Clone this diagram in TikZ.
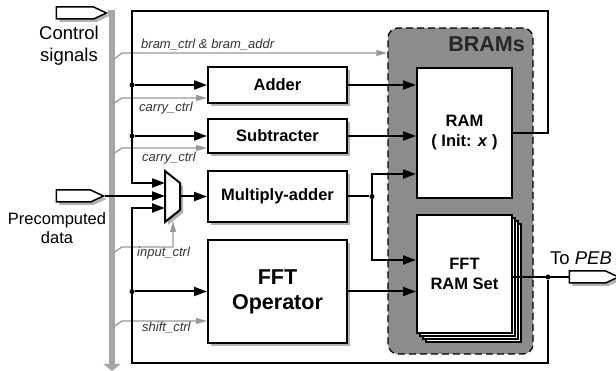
\documentclass[tikz,border=0pt]{standalone}
\usepackage{fontspec}
\setmainfont{Liberation Sans}
\usetikzlibrary{arrows.meta}
\usetikzlibrary{shapes.symbols}
\usetikzlibrary{shadows}

\definecolor{bramgray}{HTML}{8C8C8E}

\begin{document}
\begin{tikzpicture}[x=1pt,y=-1pt]
    \tikzset{shadowed/.style = {drop shadow={shadow xshift=3pt,shadow yshift=-3pt,fill=black!30,opacity=1}}}
    \tikzset{block/.style = {shape=rectangle,draw,line width=2pt,fill=white,minimum width=139pt,inner sep=0pt,align=center,font=\bfseries\fontsize{16.5}{20}\selectfont}}
    \tikzset{port/.style = {shape=signal,signal to=east,signal pointer angle=50,draw,line width=1.5pt,fill=white,minimum height=12pt,inner sep=0pt,shadowed}}
    \tikzset{wire/.style = {line width=2pt,> = {Triangle[length=13pt,width=9pt]}}}
    \tikzset{ctl/.style = {draw=black!40,line width=1.3pt,> = {Triangle[length=11pt,width=6pt]}}}
    \tikzset{bus/.style = {draw=black!35,line width=6.5pt,> = {Triangle[length=7pt,width=17pt]}}}
    \tikzset{lbl/.style = {font=\itshape\fontsize{13}{15}\selectfont,text=black!80,anchor=base west,inner sep=0pt}}
    \tikzset{dot/.style = {shape=circle,fill,inner sep=0pt,minimum size=5pt}}

    \useasboundingbox (0,0) rectangle (616,371);

    % ports and bus

    \node[port,minimum width=50pt] (ctrl) at (75,13) {};
    \node[port,minimum width=47pt] (pre) at (73.5,196) {};
    \node[port,minimum width=49pt] (peb) at (587.5,277) {};
    \node[align=center,font=\fontsize{18.5}{22}\selectfont] (ctrltext) at (69,46) {Control\\signals};
    \node[align=center,font=\fontsize{16.5}{19}\selectfont] (pretext) at (57,228) {Precomputed\\data};
    \node[anchor=base west,inner sep=0pt,font=\fontsize{18.5}{22}\selectfont] (pebtext) at (550,265) {To \textit{PEB}};

    \coordinate (bustop) at (112,13);
    \coordinate (busend) at (112,371);
    \draw[bus,->] (ctrl.east) -- (bustop) -- (busend);

    % BRAMs

    \node[draw,line width=1.3pt,dash pattern=on 7pt off 4pt,fill=bramgray,rounded corners=10pt,minimum width=145pt,minimum height=326pt] (brams) at (460.5,191) {};
    \node[anchor=base east,inner sep=0pt,font=\bfseries\fontsize{21.5}{25}\selectfont,text=black!85] (bramstext) at (525,52) {BRAMs};
    \node[block,minimum width=95pt,minimum height=130pt] (ram) at (464.5,133) {RAM\\( Init: \textit{x} )};
    \foreach \d in {9,6,3}
        \draw[line width=1.2pt,fill=white] (417+\d,215+\d) rectangle (512+\d,333+\d);
    \node[block,minimum width=95pt,minimum height=118pt] (fftram) at (464.5,274) {FFT\\RAM Set};

    % operators

    \node[block,shadowed,minimum height=36pt] (add) at (277.5,85) {Adder};
    \node[block,shadowed,minimum height=34pt] (sub) at (277.5,136) {Subtracter};
    \node[block,shadowed,minimum height=51pt] (mul) at (277.5,196.5) {Multiply-adder};
    \node[block,shadowed,minimum height=103pt,font=\bfseries\fontsize{21.5}{25}\selectfont] (fftop) at (277.5,291.5) {FFT\\Operator};

    \coordinate (m1) at (165,171);
    \coordinate (m2) at (180,183);
    \coordinate (m3) at (180,210);
    \coordinate (m4) at (165,222);
    \draw[shadowed,line width=2pt,fill=white,line join=miter] (m1) -- (m2) -- (m3) -- (m4) -- cycle;
    \coordinate (min1) at (165,183);
    \coordinate (min2) at (165,196);
    \coordinate (min3) at (165,208);
    \coordinate (mout) at (180,196.5);
    \coordinate (msel) at (173,221);

    % control lines

    \draw[ctl,->] (113,60) -- (122,53) -- (brams.west |- 0,53);
    \draw[ctl,->] (113,104) -- (122,98) -- (add.west |- 0,98);
    \draw[ctl,->] (113,154) -- (122,148) -- (sub.west |- 0,148);
    \draw[ctl,->] (113,253) -- (122,247) -| (msel);
    \draw[ctl,->] (113,327) -- (122,321) -- (fftop.west |- 0,321);
    \node[lbl] (lbram) at (141,49) {bram\_ctrl \& bram\_addr};
    \node[lbl] (lcarrya) at (139,112) {carry\_ctrl};
    \node[lbl] (lcarryb) at (142,162) {carry\_ctrl};
    \node[lbl] (linput) at (137,257) {input\_ctrl};
    \node[lbl] (lshift) at (142,332) {shift\_ctrl};

    % data paths

    \coordinate (tl) at (132,11.5);
    \coordinate (tr) at (548,11.5);
    \coordinate (bl) at (132,363);
    \draw[wire,->] (ram.east) -| (tr) -- (tl) |- (min1);
    \node[dot] (dadd) at (tl |- add.west) {};
    \node[dot] (dsub) at (tl |- sub.west) {};
    \draw[wire,->] (dadd) -- (add.west);
    \draw[wire,->] (dsub) -- (sub.west);

    \draw[wire] (fftram.east |- peb.west) -- (peb.west);
    \node[dot] (dpeb) at (548,277) {};
    \draw[wire,->] (dpeb) |- (bl) |- (min3);
    \node[dot] (dfft) at (bl |- fftop.west) {};
    \draw[wire,->] (dfft) -- (fftop.west);

    \draw[wire,->] (pre.east) -- (min2);
    \draw[wire,->] (mout) -- (mul.west);

    \node[dot] (dmul) at (372,196.5) {};
    \draw[wire] (mul.east) -- (dmul);
    \draw[wire,->] (dmul) |- (ram.west |- 0,174);
    \draw[wire,->] (dmul) |- (fftram.west |- 0,260);
    \draw[wire,->] (add.east) -- (add.east -| ram.west);
    \draw[wire,->] (sub.east) -- (sub.east -| ram.west);
    \draw[wire,->] (fftop.east) -- (fftop.east -| fftram.west);
\end{tikzpicture}
\end{document}
